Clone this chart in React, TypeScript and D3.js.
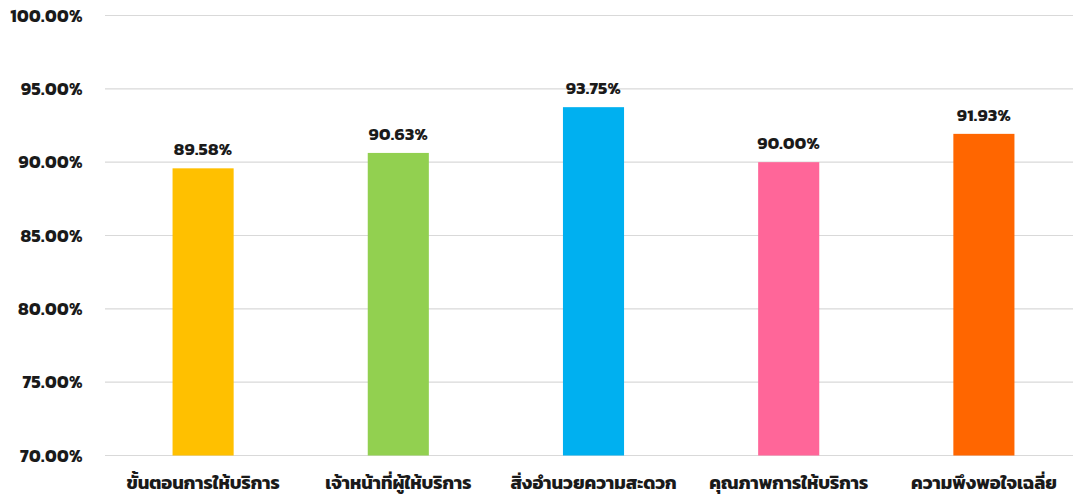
import React from "react";
import * as d3 from "d3";

const categories = ["ขั้นตอนการให้บริการ", "เจ้าหน้าที่ผู้ให้บริการ", "สิ่งอำนวยความสะดวก", "คุณภาพการให้บริการ", "ความพึงพอใจเฉลี่ย"];
const values = [89.58, 90.63, 93.75, 90.0, 91.93];
const colors = ["#FFC000", "#92D050", "#00B0F0", "#FF6699", "#FF6600"];
const yTicks = [70, 75, 80, 85, 90, 95, 100];

const W = 1073;
const H = 495;
const FONT = "Kanit, 'Noto Sans Thai', 'Noto Sans Thai UI', Tahoma, 'DejaVu Sans', sans-serif";

export default function App() {
  const x = d3.scaleBand<string>().domain(categories).range([105.5, 1081.5]).paddingInner(0.687).paddingOuter(0.3435);
  const y = d3.scaleLinear().domain([70, 100]).range([455.5, 15.5]);
  return (
    <svg width={W} height={H} style={{ position: "absolute", left: 0, top: 0, background: "#fff" }} fontFamily={FONT}>
      {yTicks.map((t) => (
        <g key={t}>
          <line x1={105} x2={W} y1={y(t)} y2={y(t)} stroke="#d9d9d9" strokeWidth={1.2} />
          <text x={83} y={y(t)} dy="0.35em" textAnchor="end" fontSize={17.5} fontWeight={700} letterSpacing={0.4} fill="#1a1a1a">
            {t.toFixed(2)}%
          </text>
        </g>
      ))}
      {categories.map((c, i) => (
        <g key={c}>
          <rect x={x(c)} y={y(values[i])} width={x.bandwidth()} height={y(70) - y(values[i])} fill={colors[i]} />
          <text x={(x(c) as number) + x.bandwidth() / 2} y={y(values[i]) - 13} textAnchor="middle" fontSize={17.2} fontWeight={700} letterSpacing={0.3} fill="#1a1a1a">
            {values[i].toFixed(2)}%
          </text>
          <text x={(x(c) as number) + x.bandwidth() / 2} y={489} textAnchor="middle" fontSize={18.3} fontWeight={700} fill="#1a1a1a">
            {c}
          </text>
        </g>
      ))}
    </svg>
  );
}
